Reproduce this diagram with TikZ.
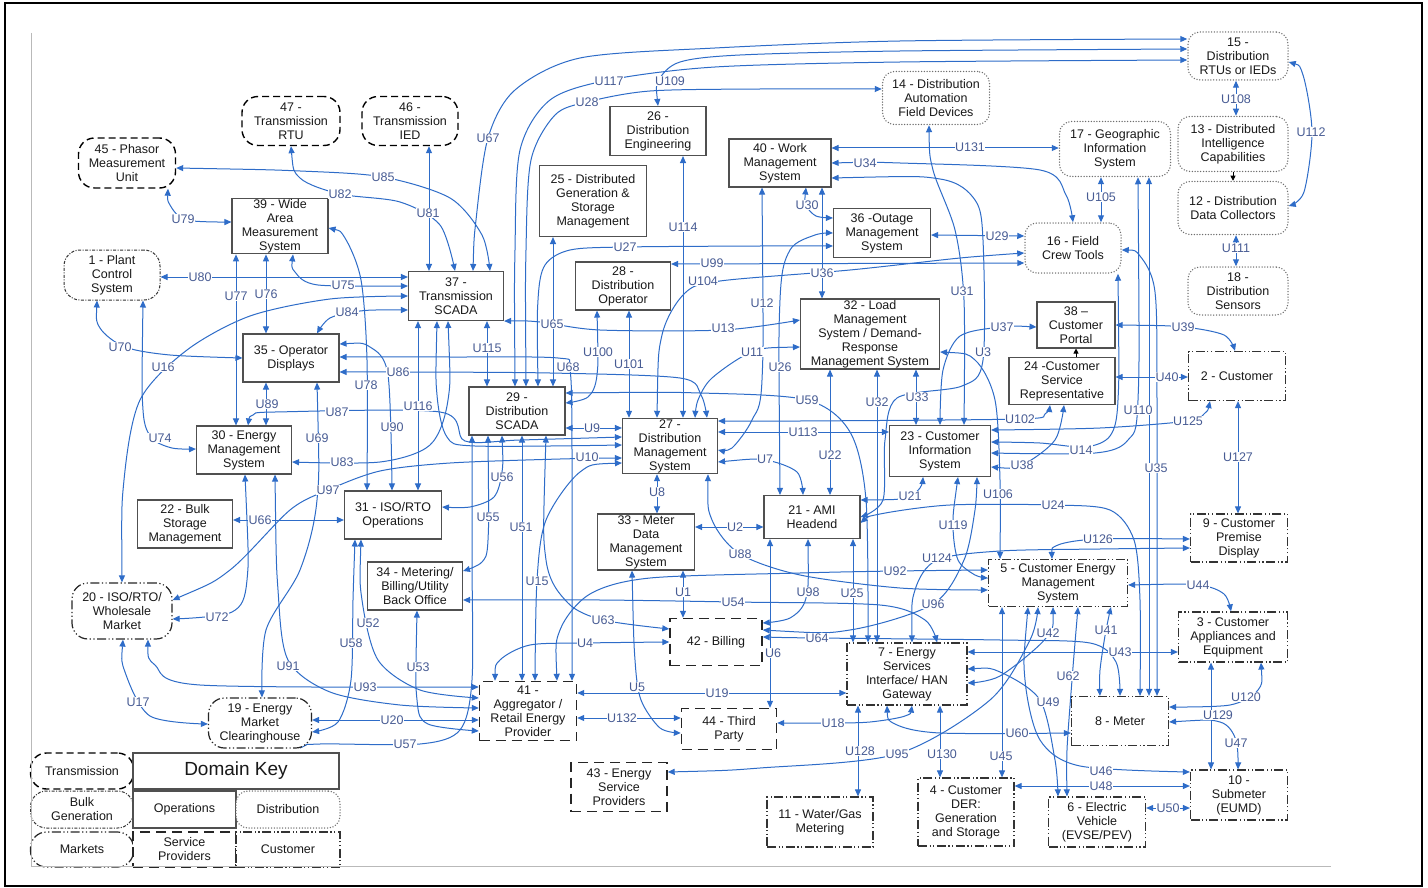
\documentclass[tikz,border=0pt]{standalone}
\usepackage{fontspec}
\setmainfont{Liberation Sans}
\usetikzlibrary{arrows.meta,backgrounds}
\definecolor{lc}{RGB}{46,108,200}
\definecolor{labc}{RGB}{72,92,148}
\definecolor{opc}{RGB}{80,80,80}
\definecolor{txt}{RGB}{25,25,25}
\definecolor{distc}{RGB}{110,110,110}
\newcommand\nf{\fontsize{12.5}{14}\selectfont}
\tikzset{
 >={Triangle[length=7pt,width=6pt]},
 nb/.style={align=center,font=\nf,text=txt,inner sep=1pt,fill=white},
 ops/.style={nb,draw=opc,line width=1.1pt},
 trans/.style={nb,draw=black,line width=1.4pt,rounded corners=16pt,dash pattern=on 7pt off 4pt},
 dist/.style={nb,draw=distc,line width=1.5pt,rounded corners=12pt,line cap=round,dash pattern=on 0pt off 2.8pt},
 bulk/.style={nb,draw=black!80,line width=1pt,rounded corners=16pt,dash pattern=on 3pt off 1.5pt on 1pt off 1.5pt},
 mkt/.style={nb,draw=black!85,line width=1.2pt,rounded corners=16pt,dash pattern=on 9pt off 2.5pt on 1.2pt off 2.5pt on 1.2pt off 2.5pt},
 sp/.style={nb,draw=black!85,line width=1.4pt,dash pattern=on 10pt off 6pt},
 cust/.style={nb,draw=black!80,line width=1.2pt,dash pattern=on 9pt off 2.5pt on 1.2pt off 2.5pt on 1.2pt off 2.5pt},
 sz/.style 2 args={minimum width=#1pt,minimum height=#2pt},
 cn/.style={draw=lc,line width=1pt},
 ab/.style={cn,<->},
 blk/.style={draw=black,line width=.8pt,-{Triangle[length=5pt,width=5pt]}},
 lb/.style={font=\fontsize{12.5}{13}\selectfont,text=labc,fill=white,inner sep=0.5pt},
}
\begin{document}
\begin{tikzpicture}[x=1pt,y=-1pt]
\useasboundingbox (0,0) rectangle (1428,888);
% nodes
\node[trans,sz={98}{49}] (n47) at (291,121) {47 -\\Transmission\\RTU};
\node[trans,sz={96}{49}] (n46) at (410,121) {46 -\\Transmission\\IED};
\node[trans,sz={97}{50}] (n45) at (127,163) {45 - Phasor\\Measurement\\Unit};
\node[ops,sz={96}{55}] (n39) at (280,226) {39 - Wide\\Area\\Measurement\\System};
\node[bulk,sz={96}{50}] (n1) at (112,275) {1 - Plant\\Control\\System};
\node[ops,sz={96}{49}] (n26) at (658,131) {26 -\\Distribution\\Engineering};
\node[ops,sz={107}{71}] (n25) at (593,201) {25 - Distributed\\Generation \&\\Storage\\Management};
\node[ops,sz={95}{49}] (n37) at (456,296) {37 -\\Transmission\\SCADA};
\node[ops,sz={95}{48}] (n28) at (623,286) {28 -\\Distribution\\Operator};
\node[dist,sz={107}{53}] (n14) at (936,98) {14 - Distribution\\Automation\\Field Devices};
\node[ops,sz={102}{48}] (n40) at (780,163) {40 - Work\\Management\\System};
\node[ops,sz={97}{49}] (n36) at (882,233) {36 -Outage\\Management\\System};
\node[dist,sz={96}{50}] (n16) at (1073,248) {16 - Field\\Crew Tools};
\node[dist,sz={111}{55}] (n17) at (1115,149) {17 - Geographic\\Information\\System};
\node[dist,sz={100}{48}] (n15) at (1238,56) {15 -\\Distribution\\RTUs or IEDs};
\node[dist,sz={110}{55}] (n13) at (1233,144) {13 - Distributed\\Intelligence\\Capabilities};
\node[dist,sz={110}{53}] (n12) at (1233,208) {12 - Distribution\\Data Collectors};
\node[dist,sz={100}{48}] (n18) at (1238,291) {18 -\\Distribution\\Sensors};
\node[ops,sz={78}{46}] (n38) at (1076,325) {38 --\\Customer\\Portal};
\node[ops,sz={106}{47}] (n24) at (1062,381) {24 -Customer\\Service\\Representative};
\node[cust,sz={97}{49}] (n2) at (1237,376) {2 - Customer};
\node[cust,sz={97}{48}] (n9) at (1239,538) {9 - Customer\\Premise\\Display};
\node[ops,sz={139}{70}] (n32) at (870,334) {32 - Load\\Management\\System / Demand-\\Response\\Management System};
\node[ops,sz={101}{51}] (n23) at (940,451) {23 - Customer\\Information\\System};
\node[ops,sz={96}{43}] (n21) at (812,517) {21 - AMI\\Headend};
\node[cust,sz={139}{47}] (n5) at (1058,583) {5 - Customer Energy\\Management\\System};
\node[ops,sz={96}{48}] (n29) at (517,411) {29 -\\Distribution\\SCADA};
\node[ops,sz={95}{55}] (n27) at (670,446) {27 -\\Distribution\\Management\\System};
\node[ops,sz={97}{48}] (n31) at (393,515) {31 - ISO/RTO\\Operations};
\node[ops,sz={97}{56}] (n33) at (646,542) {33 - Meter\\Data\\Management\\System};
\node[ops,sz={95}{48}] (n34) at (415,586) {34 - Metering/\\Billing/Utility\\Back Office};
\node[ops,sz={96}{48}] (n35) at (291,358) {35 - Operator\\Displays};
\node[ops,sz={95}{48}] (n30) at (244,450) {30 - Energy\\Management\\System};
\node[ops,sz={95}{48}] (n22) at (185,524) {22 - Bulk\\Storage\\Management};
\node[mkt,sz={100}{56}] (n20) at (122,611) {20 - ISO/RTO/\\Wholesale\\Market};
\node[mkt,sz={103}{50}] (n19) at (260,723) {19 - Energy\\Market\\Clearinghouse};
\node[sp,sz={97}{59}] (n41) at (528,711) {41 -\\Aggregator /\\Retail Energy\\Provider};
\node[sp,sz={92}{47}] (n42) at (716,642) {42 - Billing};
\node[sp,sz={95}{41}] (n44) at (729,729) {44 - Third\\Party};
\node[sp,sz={96}{49}] (n43) at (619,787) {43 - Energy\\Service\\Providers};
\node[cust,sz={120}{62}] (n7) at (907,674) {7 - Energy\\Services\\Interface/ HAN\\Gateway};
\node[cust,sz={106}{50}] (n11) at (820,822) {11 - Water/Gas\\Metering};
\node[cust,sz={96}{68}] (n4) at (966,812) {4 - Customer\\DER:\\Generation\\and Storage};
\node[cust,sz={109}{50}] (n3) at (1233,637) {3 - Customer\\Appliances and\\Equipment};
\node[cust,sz={97}{49}] (n8) at (1120,721) {8 - Meter};
\node[cust,sz={97}{50}] (n10) at (1239,795) {10 -\\Submeter\\(EUMD)};
\node[cust,sz={97}{50}] (n6) at (1097,822) {6 - Electric\\Vehicle\\(EVSE/PEV)};
% domain key
\node[trans,sz={103}{36}] (k1) at (82,771) {Transmission};
\node[ops,sz={206}{36},font=\fontsize{19}{22}\selectfont] (k2) at (236,771) {Domain Key};
\node[bulk,sz={103}{37}] (k3) at (82,809.5) {Bulk\\Generation};
\node[ops,sz={103}{37}] (k4) at (184.5,809.5) {Operations};
\node[dist,sz={104}{37}] (k5) at (288,809.5) {Distribution};
\node[mkt,sz={103}{35}] (k6) at (82,849.5) {Markets};
\node[sp,sz={103}{35}] (k7) at (184.5,849.5) {Service\\Providers};
\node[cust,sz={104}{35}] (k8) at (288,849.5) {Customer};
% frame
\draw[line width=2pt] (5,3) rectangle (1422,886);
\draw[gray!55,line width=1pt] (31,33) -- (31,866) -- (1331,866);
\begin{scope}[on background layer]
\fill[white] (0,0) rectangle (1428,888);
% top
\draw[ab] plot[smooth,tension=.5] coordinates {(n37.north -| 473,0) (476,220) (488,138) (515,90) (580,58) (715,48) (900,41) (n15.west |- 0,39)};
\draw[ab] plot[smooth,tension=.5] coordinates {(n29.north -| 515,0) (515,250) (520,150) (550,100) (609,80) (715,67) (900,62) (n15.west |- 0,60)};
\draw[ab] plot[smooth,tension=.5] coordinates {(n26.north -| 658,0) (659,80) (680,62) (740,55) (900,51) (n15.west |- 0,49)};
\draw[ab] plot[smooth,tension=.5] coordinates {(n29.north -| 526,0) (526,250) (531,160) (555,115) (587,102) (650,91) (760,89) (n14.west |- 0,89)};
\draw[ab] plot[smooth,tension=.5] coordinates {(n29.north -| 538,0) (538,300) (545,265) (570,250) (625,247) (760,246) (n36.west |- 0,246)};
\draw[ab] (n25.south -| 553,0) -- (n29.north -| 553,0);
\draw[ab] plot[smooth,tension=.5] coordinates {(n47.south -| 291,0) (300,178) (340,194) (400,202) (440,225) (n37.north -| 455,0)};
\draw[ab] plot[smooth,tension=.5] coordinates {(n45.east |- 0,168) (300,171) (383,177) (450,198) (482,235) (n37.north -| 490,0)};
\draw[ab] (n46.south -| 429,0) -- (n37.north -| 429,0);
\draw[ab] plot[smooth,tension=.5] coordinates {(n45.south -| 168,0) (170,205) (186,220) (n39.west |- 0,222)};
\draw[ab] (n1.east |- 0,277) -- (n37.west |- 0,277);
\draw[ab] plot[smooth,tension=.5] coordinates {(n39.south -| 293,0) (295,272) (318,285) (n37.west |- 0,286)};
\draw[ab] (n39.south -| 236,0) -- (n30.north -| 236,0);
\draw[ab] (n39.south -| 266,0) -- (n35.north -| 266,0);
\draw[ab] plot[smooth,tension=.5] coordinates {(n20.north -| 122,0) (124,480) (140,400) (187,350) (250,316) (330,299) (n37.west |- 0,296)};
\draw[ab] plot[smooth,tension=.5] coordinates {(n37.west |- 0,310) (360,311) (330,318) (n35.north -| 317,0)};
\draw[ab] plot[smooth,tension=.5] coordinates {(n1.south -| 97,0) (100,328) (125,347) (170,355) (n35.west |- 0,358)};
\draw[ab] plot[smooth,tension=.5] coordinates {(n1.south -| 143,0) (143,410) (152,438) (172,448) (n30.west |- 0,449)};
\draw[ab] plot[smooth,tension=.5] coordinates {(n39.east |- 0,228) (345,238) (361,280) (367,360) (n31.north -| 367,0)};
\draw[ab] plot[smooth,tension=.5] coordinates {(n35.east |- 0,344) (370,347) (388,375) (n31.north -| 392,0)};
\draw[ab] (n37.south -| 418,0) -- (n31.north -| 418,0);
\draw[ab] plot[smooth,tension=.5] coordinates {(n35.east |- 0,372) (400,372) (550,373) (680,378) (701,395) (n27.north -| 707,0)};
\draw[ab] plot[smooth,tension=.5] coordinates {(n35.east |- 0,357) (450,357) (558,358) (570,370) (572,450) (n41.north -| 572,0)};
\draw[ab] (n37.south -| 487,0) -- (n29.north -| 487,0);
\draw[ab] plot[smooth,tension=.5] coordinates {(n37.south east) (540,322) (600,330) (723,330) (n32.west |- 0,320)};
\draw[ab] plot[smooth,tension=.5] coordinates {(n28.south -| 597,0) (597,375) (588,397) (n29.east |- 0,403)};
\draw[ab] (n28.south -| 629,0) -- (n27.north -| 629,0);
\draw[ab] (n26.south -| 683,0) -- (n27.north -| 683,0);
\draw[ab] (n28.east |- 0,264) -- (n16.west |- 0,263);
\draw[ab] plot[smooth,tension=.5] coordinates {(n27.north -| 657,0) (662,335) (685,293) (720,281) (850,270) (960,258) (n16.west |- 0,253)};
\draw[ab] (n29.east |- 0,428) -- (n27.west |- 0,428);
\draw[ab] plot[smooth,tension=.5] coordinates {(n29.east |- 0,393) (700,393) (807,400) (850,432) (866,500) (n7.north -| 868,0)};
\draw[ab] plot[smooth,tension=.5] coordinates {(n30.north -| 248,0) (253,415) (275,412) (440,412) (465,441) (520,440) (n27.west |- 0,437)};
\draw[ab] plot[smooth,tension=.5] coordinates {(n37.south -| 437,0) (437,395) (447,437) (475,446) (n27.west |- 0,445)};
\draw[ab] plot[smooth,tension=.5] coordinates {(n37.south -| 448,0) (448,400) (430,445) (380,462) (n30.east |- 0,462)};
\draw[ab] plot[smooth,tension=.5] coordinates {(n20.east |- 0,600) (230,570) (290,510) (328,490) (380,471) (450,463) (560,459) (n27.west |- 0,458)};
\draw[ab] (n22.east |- 0,520) -- (n31.west |- 0,520);
\draw[ab] plot[smooth,tension=.5] coordinates {(n29.south -| 502,0) (502,472) (494,497) (470,507) (n31.east |- 0,507)};
\draw[ab] plot[smooth,tension=.5] coordinates {(n29.south -| 488,0) (488,540) (482,562) (n34.east |- 0,571)};
\draw[ab] (n29.south -| 522,0) -- (n41.north -| 522,0);
\draw[ab] plot[smooth,tension=.5] coordinates {(n19.south -| 300,0) (320,744) (420,744) (460,730) (472,680) (472,560) (n29.south -| 472,0)};
\draw[ab] plot[smooth,tension=.5] coordinates {(n34.south -| 417,0) (417,700) (428,724) (n41.west |- 0,731)};
\draw[ab] plot[smooth,tension=.5] coordinates {(n31.south -| 361,0) (362,600) (378,660) (420,690) (n41.west |- 0,698)};
\draw[ab] plot[smooth,tension=.5] coordinates {(n31.south -| 355,0) (353,600) (351,680) (338,722) (n19.east |- 0,732)};
\draw[ab] plot[smooth,tension=.5] coordinates {(n20.south -| 148,0) (155,665) (200,685) (n41.west |- 0,687)};
\draw[ab] plot[smooth,tension=.5] coordinates {(n30.south -| 275,0) (278,590) (288,660) (330,692) (400,705) (n41.west |- 0,708)};
\draw[ab] (n19.east |- 0,720) -- (n41.west |- 0,720);
\draw[ab] plot[smooth,tension=.5] coordinates {(n30.south -| 245,0) (247,580) (232,612) (n20.east |- 0,619)};
\draw[ab] plot[smooth,tension=.5] coordinates {(n35.south -| 317,0) (317,500) (300,570) (266,630) (n19.north -| 262,0)};
\draw[ab] plot[smooth,tension=.5] coordinates {(n20.south -| 123,0) (125,672) (150,716) (n19.west |- 0,724)};
\draw[ab] (n35.south -| 266,0) -- (n30.north -| 266,0);
% middle
\draw[ab] (n33.south -| 683,0) -- (n42.north -| 683,0);
\draw[ab] (n27.south -| 657,0) -- (n33.north -| 657,0);
\draw[ab] (n33.east |- 0,527) -- (n21.west |- 0,527);
\draw[ab] plot[smooth,tension=.5] coordinates {(n27.west |- 0,463) (580,472) (546,520) (537,580) (n41.north -| 535,0)};
\draw[ab] plot[smooth,tension=.5] coordinates {(n29.south -| 546,0) (546,560) (568,603) (603,620) (n42.west |- 0,629)};
\draw[ab] plot[smooth,tension=.5] coordinates {(n41.north -| 495,0) (500,660) (530,645) (585,643) (n42.west |- 0,642)};
\draw[ab] plot[smooth,tension=.5] coordinates {(n41.north -| 557,0) (560,630) (590,594) (650,578) (800,573) (895,571) (n5.west |- 0,570)};
\draw[ab] plot[smooth,tension=.5] coordinates {(n34.east |- 0,600) (600,600) (733,602) (880,605) (925,620) (n7.north -| 937,0)};
\draw[ab] plot[smooth,tension=.5] coordinates {(n33.south -| 632,0) (635,660) (641,700) (660,728) (n44.west |- 0,733)};
\draw[ab] (n41.east |- 0,718) -- (n44.west |- 0,718);
\draw[ab] (n41.east |- 0,693) -- (n7.west |- 0,693);
\draw[ab] (n21.south -| 770,0) -- (n44.north -| 770,0);
\draw[ab] plot[smooth,tension=.5] coordinates {(n21.south -| 808,0) (806,598) (790,618) (n42.east |- 0,623)};
\draw[ab] plot[smooth,tension=.5] coordinates {(n42.east |- 0,637) (817,638) (1000,640) (1090,643) (1116,662) (n8.north -| 1120,0)};
\draw[ab] plot[smooth,tension=.5] coordinates {(n42.east |- 0,630) (850,630) (933,604) (964,560) (975,510) (n23.south -| 977,0)};
\draw[ab] (n21.south -| 853,0) -- (n7.north -| 853,0);
\draw[ab] (n32.south -| 877,0) -- (n7.north -| 877,0);
\draw[ab] plot[smooth,tension=.5] coordinates {(n7.north -| 912,0) (915,590) (937,560) (1000,551) (1100,549) (n9.west |- 0,548)};
\draw[ab] plot[smooth,tension=.5] coordinates {(n5.north -| 1052,0) (1058,545) (1098,539) (n9.west |- 0,539)};
\draw[ab] plot[smooth,tension=.5] coordinates {(n32.east |- 0,352) (975,360) (995,400) (1000,480) (n5.north -| 1000,0)};
\draw[ab] plot[smooth,tension=.5] coordinates {(n23.south -| 958,0) (953,525) (958,560) (975,575) (n5.west |- 0,578)};
\draw[ab] plot[smooth,tension=.5] coordinates {(n27.south -| 708,0) (712,520) (740,554) (800,575) (900,588) (n5.west |- 0,590)};
\draw[ab] (n32.south -| 916,0) -- (n23.north -| 916,0);
\draw[ab] (n32.south -| 830,0) -- (n21.north -| 830,0);
\draw[ab] plot[smooth,tension=.5] coordinates {(n21.north -| 780,0) (780,300) (790,250) (815,235) (n36.west |- 0,233)};
\draw[ab] plot[smooth,tension=.5] coordinates {(n40.south -| 762,0) (762,380) (752,420) (732,448) (n27.east |- 0,450)};
\draw[ab] plot[smooth,tension=.5] coordinates {(n32.west |- 0,347) (752,352) (712,378) (698,400) (n27.north -| 695,0)};
\draw[ab] plot[smooth,tension=.5] coordinates {(n27.east |- 0,462) (765,460) (797,472) (n21.north -| 803,0)};
\draw[ab] (n27.east |- 0,432) -- (n23.west |- 0,432);
\draw[ab] plot[smooth,tension=.5] coordinates {(n27.east |- 0,421) (800,421) (1020,419) (1045,414) (n24.south -| 1050,0)};
\draw[ab] plot[smooth,tension=.5] coordinates {(n23.east |- 0,467) (1022,465) (1055,440) (n24.south -| 1064,0)};
\draw[ab] plot[smooth,tension=.5] coordinates {(n21.east |- 0,500) (905,498) (920,488) (n23.south -| 923,0)};
\draw[ab] plot[smooth,tension=.5] coordinates {(n40.east |- 0,178) (940,179) (975,200) (983,240) (983,360) (962,386) (897,398) (885,440) (883,500) (n21.east |- 0,517)};
\draw[ab] plot[smooth,tension=.5] coordinates {(n38.west |- 0,327) (1002,327) (960,336) (943,370) (n23.north -| 940,0)};
\draw[ab] plot[smooth,tension=.5] coordinates {(n14.south -| 929,0) (933,170) (955,230) (964,300) (n23.north -| 964,0)};
\draw[ab] (n40.south -| 822,0) -- (n32.north -| 822,0);
\draw[ab] plot[smooth,tension=.5] coordinates {(n40.south -| 806,0) (806,205) (816,216) (n36.west |- 0,218)};
\draw[ab] (n36.east |- 0,235) -- (n16.west |- 0,236);
\draw[ab] plot[smooth,tension=.5] coordinates {(n40.east |- 0,163) (900,163) (1040,170) (1066,195) (n16.north -| 1073,0)};
\draw[ab] (n40.east |- 0,148) -- (n17.west |- 0,148);
\draw[ab] (n17.south -| 1101,0) -- (n16.north -| 1101,0);
\draw[ab] (n15.south -| 1236,0) -- (n13.north -| 1236,0);
\draw[ab] (n12.south -| 1236,0) -- (n18.north -| 1236,0);
\draw[blk] (n13.south -| 1233,0) -- (n12.north -| 1233,0);
\draw[ab] plot[smooth,tension=.5] coordinates {(n15.east |- 0,62) (1303,75) (1312,132) (1304,192) (n12.east |- 0,206)};
\draw[ab] plot[smooth,tension=.5] coordinates {(n16.east |- 0,250) (1140,256) (1155,292) (1157,400) (n8.north -| 1157,0)};
\draw[ab] plot[smooth,tension=.5] coordinates {(n16.south -| 1118,0) (1118,400) (1110,436) (1085,447) (1040,443) (n23.east |- 0,442)};
\draw[ab] plot[smooth,tension=.5] coordinates {(n17.south -| 1138,0) (1138,400) (1128,440) (1095,453) (n23.east |- 0,453)};
\draw[ab] (n17.south -| 1149,0) -- (n8.north -| 1149,0);
\draw[ab] plot[smooth,tension=.5] coordinates {(n21.east |- 0,523) (880,514) (950,505) (1053,505) (1110,510) (1134,540) (1140,600) (n8.north -| 1140,0)};
\draw[ab] plot[smooth,tension=.5] coordinates {(n38.east |- 0,325) (1183,327) (1224,335) (n2.north -| 1235,0)};
\draw[ab] (n24.east |- 0,377) -- (n2.west |- 0,377);
\draw[blk] (n24.north -| 1076,0) -- (n38.south -| 1076,0);
\draw[ab] plot[smooth,tension=.5] coordinates {(n2.south -| 1210,0) (1205,413) (1188,421) (1100,428) (n23.east |- 0,430)};
\draw[ab] (n2.south -| 1238,0) -- (n9.north -| 1238,0);
\draw[ab] plot[smooth,tension=.5] coordinates {(n5.east |- 0,585) (1198,585) (1224,594) (n3.north -| 1231,0)};
\draw[ab] (n7.east |- 0,652) -- (n3.west |- 0,652);
\draw[ab] plot[smooth,tension=.5] coordinates {(n7.east |- 0,669) (1000,672) (1040,700) (1055,760) (n6.north -| 1058,0)};
\draw[ab] plot[smooth,tension=.5] coordinates {(n5.south -| 1053,0) (1046,638) (1000,676) (n7.east |- 0,683)};
\draw[ab] plot[smooth,tension=.5] coordinates {(n5.south -| 1078,0) (1072,680) (1067,750) (n6.north -| 1067,0)};
\draw[ab] plot[smooth,tension=.5] coordinates {(n5.south -| 1111,0) (1106,630) (1100,670) (n8.north -| 1100,0)};
\draw[ab] (n5.south -| 1002,0) -- (n4.north -| 1002,0);
\draw[ab] plot[smooth,tension=.5] coordinates {(n43.east |- 0,772) (760,768) (897,754) (990,700) (1030,640) (n5.south -| 1038,0)};
\draw[ab] plot[smooth,tension=.5] coordinates {(n5.south -| 1028,0) (1025,680) (1040,740) (1080,766) (n10.west |- 0,772)};
\draw[ab] (n4.east |- 0,786) -- (n10.west |- 0,786);
\draw[ab] (n6.east |- 0,808) -- (n10.west |- 0,808);
\draw[ab] plot[smooth,tension=.5] coordinates {(n7.south -| 887,0) (895,724) (940,733) (n8.west |- 0,733)};
\draw[ab] (n7.south -| 940,0) -- (n4.north -| 940,0);
\draw[ab] (n7.south -| 858,0) -- (n11.north -| 858,0);
\draw[ab] plot[smooth,tension=.5] coordinates {(n7.south -| 912,0) (905,716) (870,722) (833,723) (n44.east |- 0,723)};
\draw[ab] plot[smooth,tension=.5] coordinates {(n3.south -| 1261,0) (1258,690) (1230,705) (n8.east |- 0,707)};
\draw[ab] (n3.south -| 1211,0) -- (n10.north -| 1211,0);
\draw[ab] plot[smooth,tension=.5] coordinates {(n8.east |- 0,722) (1220,722) (1236,740) (n10.north -| 1238,0)};
\end{scope}
% labels
\node[lb] (lU117) at (609,81) {U117};
\node[lb] (lU109) at (670,81) {U109};
\node[lb] (lU28) at (587,102) {U28};
\node[lb] (lU67) at (488,138) {U67};
\node[lb] (lU85) at (383,177) {U85};
\node[lb] (lU81) at (428,213) {U81};
\node[lb] (lU114) at (683,227) {U114};
\node[lb] (lU27) at (625,247) {U27};
\node[lb] (lU99) at (712,263) {U99};
\node[lb] (lU104) at (703,281) {U104};
\node[lb] (lU131) at (970,147) {U131};
\node[lb] (lU34) at (865,163) {U34};
\node[lb] (lU30) at (807,205) {U30};
\node[lb] (lU29) at (997,236) {U29};
\node[lb] (lU36) at (822,273) {U36};
\node[lb] (lU31) at (962,291) {U31};
\node[lb] (lU108) at (1236,99) {U108};
\node[lb] (lU112) at (1311,132) {U112};
\node[lb] (lU105) at (1101,197) {U105};
\node[lb] (lU111) at (1236,248) {U111};
\node[lb] (lU82) at (340,194) {U82};
\node[lb] (lU79) at (183,219) {U79};
\node[lb] (lU80) at (200,277) {U80};
\node[lb] (lU75) at (343,285) {U75};
\node[lb] (lU77) at (236,296) {U77};
\node[lb] (lU76) at (266,294) {U76};
\node[lb] (lU70) at (120,347) {U70};
\node[lb] (lU16) at (163,367) {U16};
\node[lb] (lU84) at (347,312) {U84};
\node[lb] (lU89) at (267,404) {U89};
\node[lb] (lU87) at (337,412) {U87};
\node[lb] (lU74) at (160,438) {U74};
\node[lb] (lU69) at (317,438) {U69};
\node[lb] (lU83) at (342,462) {U83};
\node[lb] (lU97) at (328,490) {U97};
\node[lb] (lU66) at (260,520) {U66};
\node[lb] (lU65) at (552,324) {U65};
\node[lb] (lU115) at (487,348) {U115};
\node[lb] (lU100) at (598,352) {U100};
\node[lb] (lU101) at (629,364) {U101};
\node[lb] (lU68) at (568,367) {U68};
\node[lb] (lU86) at (398,372) {U86};
\node[lb] (lU78) at (366,385) {U78};
\node[lb] (lU116) at (418,406) {U116};
\node[lb] (lU90) at (392,427) {U90};
\node[lb] (lU9) at (592,428) {U9};
\node[lb] (lU10) at (587,457) {U10};
\node[lb] (lU56) at (502,477) {U56};
\node[lb] (lU8) at (657,492) {U8};
\node[lb] (lU55) at (488,517) {U55};
\node[lb] (lU51) at (521,527) {U51};
\node[lb] (lU15) at (537,581) {U15};
\node[lb] (lU1) at (683,592) {U1};
\node[lb] (lU12) at (762,303) {U12};
\node[lb] (lU13) at (723,328) {U13};
\node[lb] (lU11) at (752,352) {U11};
\node[lb] (lU26) at (780,367) {U26};
\node[lb] (lU59) at (807,400) {U59};
\node[lb] (lU32) at (877,402) {U32};
\node[lb] (lU33) at (917,397) {U33};
\node[lb] (lU37) at (1002,327) {U37};
\node[lb] (lU3) at (983,352) {U3};
\node[lb] (lU102) at (1020,419) {U102};
\node[lb] (lU113) at (803,432) {U113};
\node[lb] (lU38) at (1022,465) {U38};
\node[lb] (lU7) at (765,459) {U7};
\node[lb] (lU22) at (830,455) {U22};
\node[lb] (lU21) at (910,496) {U21};
\node[lb] (lU106) at (998,494) {U106};
\node[lb] (lU24) at (1053,505) {U24};
\node[lb] (lU119) at (953,525) {U119};
\node[lb] (lU2) at (735,527) {U2};
\node[lb] (lU88) at (740,554) {U88};
\node[lb] (lU124) at (937,558) {U124};
\node[lb] (lU92) at (895,571) {U92};
\node[lb] (lU98) at (808,592) {U98};
\node[lb] (lU25) at (852,593) {U25};
\node[lb] (lU39) at (1183,327) {U39};
\node[lb] (lU40) at (1167,377) {U40};
\node[lb] (lU110) at (1138,410) {U110};
\node[lb] (lU125) at (1188,421) {U125};
\node[lb] (lU14) at (1081,450) {U14};
\node[lb] (lU35) at (1156,468) {U35};
\node[lb] (lU127) at (1238,457) {U127};
\node[lb] (lU126) at (1098,539) {U126};
\node[lb] (lU44) at (1198,585) {U44};
\node[lb] (lU72) at (217,617) {U72};
\node[lb] (lU58) at (351,643) {U58};
\node[lb] (lU91) at (288,666) {U91};
\node[lb] (lU17) at (138,702) {U17};
\node[lb] (lU52) at (368,623) {U52};
\node[lb] (lU53) at (418,667) {U53};
\node[lb] (lU93) at (365,687) {U93};
\node[lb] (lU20) at (392,720) {U20};
\node[lb] (lU57) at (405,744) {U57};
\node[lb] (lU63) at (603,620) {U63};
\node[lb] (lU4) at (585,643) {U4};
\node[lb] (lU5) at (637,687) {U5};
\node[lb] (lU132) at (622,718) {U132};
\node[lb] (lU19) at (717,693) {U19};
\node[lb] (lU54) at (733,602) {U54};
\node[lb] (lU96) at (933,604) {U96};
\node[lb] (lU64) at (817,638) {U64};
\node[lb] (lU6) at (773,653) {U6};
\node[lb] (lU42) at (1048,633) {U42};
\node[lb] (lU18) at (833,723) {U18};
\node[lb] (lU49) at (1048,702) {U49};
\node[lb] (lU60) at (1017,733) {U60};
\node[lb] (lU128) at (860,751) {U128};
\node[lb] (lU95) at (897,754) {U95};
\node[lb] (lU130) at (942,754) {U130};
\node[lb] (lU45) at (1001,756) {U45};
\node[lb] (lU41) at (1106,630) {U41};
\node[lb] (lU43) at (1120,652) {U43};
\node[lb] (lU62) at (1068,676) {U62};
\node[lb] (lU120) at (1246,697) {U120};
\node[lb] (lU129) at (1218,715) {U129};
\node[lb] (lU47) at (1236,743) {U47};
\node[lb] (lU46) at (1101,771) {U46};
\node[lb] (lU48) at (1101,786) {U48};
\node[lb] (lU50) at (1168,808) {U50};
\end{tikzpicture}
\end{document}
